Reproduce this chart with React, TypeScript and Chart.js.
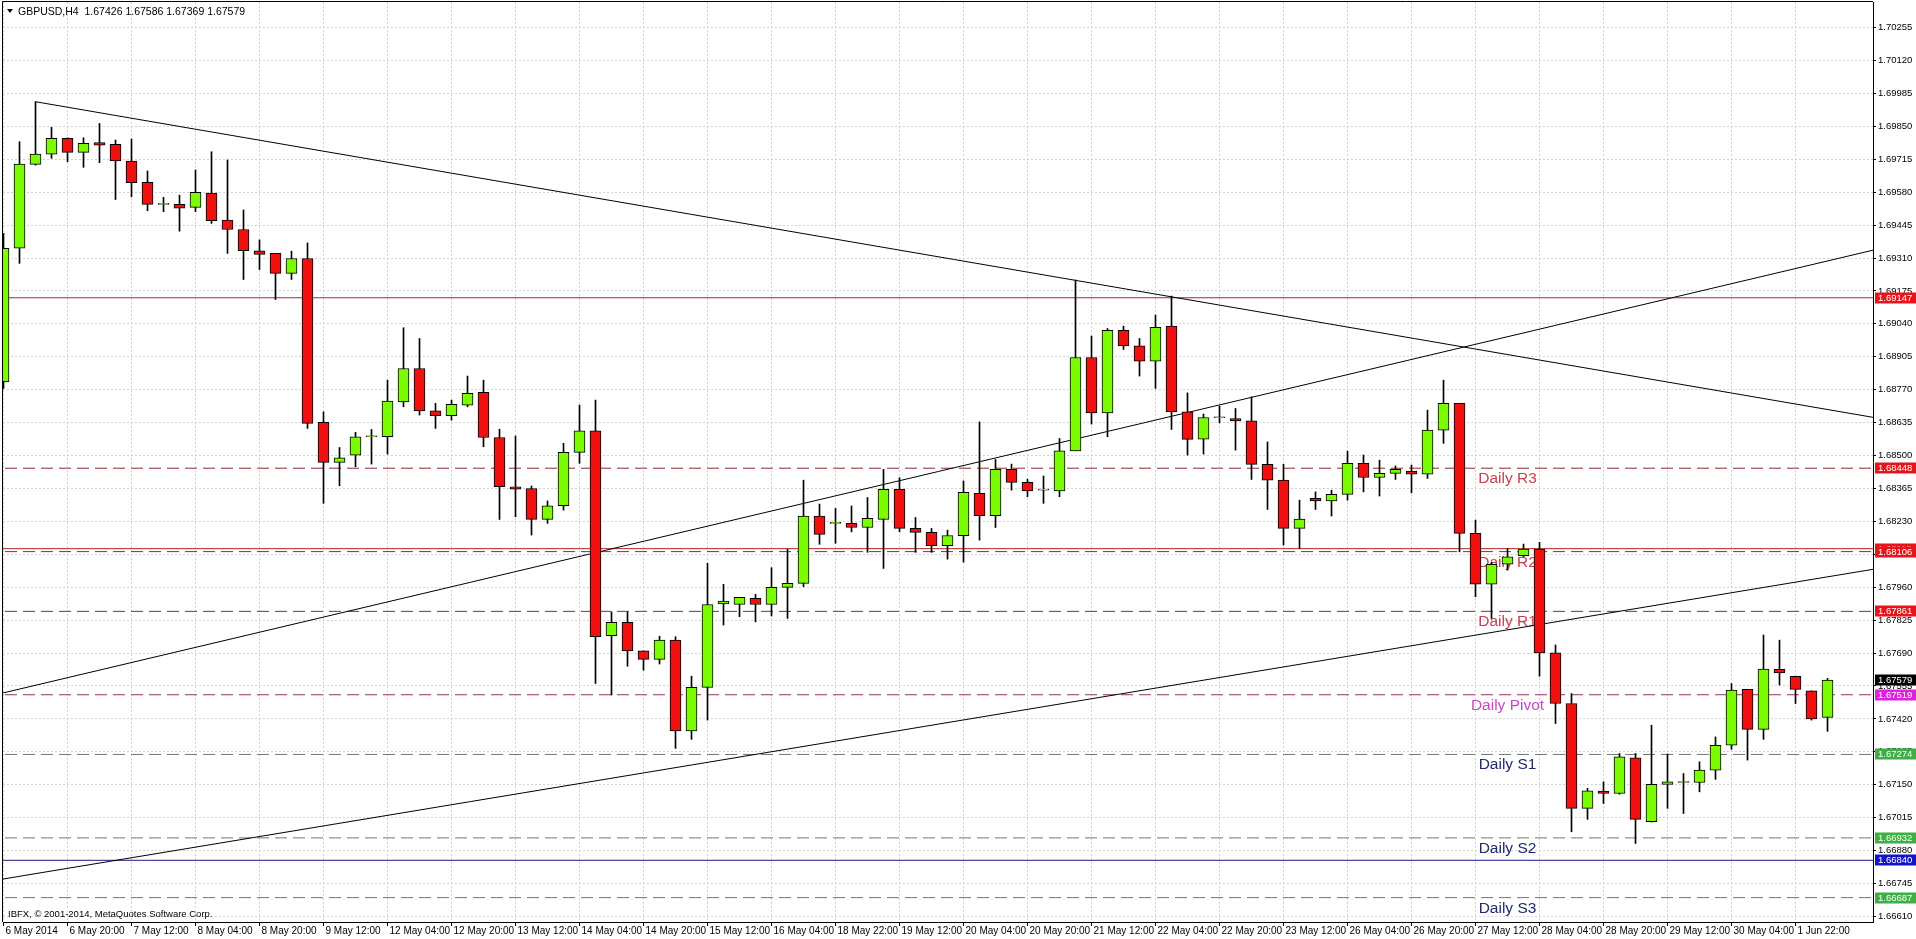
import React, { useEffect, useRef } from 'react';
import { Chart, registerables } from 'chart.js';

Chart.register(...registerables);

// ---------- DATA ----------
const symbolName = 'GBPUSD,H4';
const copyrightText = 'IBFX, \u00A9 2001-2014, MetaQuotes Software Corp.';

const opens = [
  1.68802, 1.69350, 1.69694, 1.69736, 1.69801, 1.69743, 1.69783, 1.69776, 1.69708, 1.69620,
  1.69530, 1.69530, 1.69518, 1.69576, 1.69466, 1.69427, 1.69340, 1.69329, 1.69247, 1.69308,
  1.68636, 1.68472, 1.68502, 1.68577, 1.68577, 1.68720, 1.68857, 1.68683, 1.68663, 1.68707,
  1.68759, 1.68574, 1.68372, 1.68365, 1.68238, 1.68294, 1.68513, 1.68601, 1.67761, 1.67816,
  1.67699, 1.67664, 1.67743, 1.67371, 1.67549, 1.67891, 1.67889, 1.67914, 1.67889, 1.67959,
  1.67976, 1.68252, 1.68222, 1.68222, 1.68205, 1.68238, 1.68361, 1.68201, 1.68185, 1.68130,
  1.68171, 1.68345, 1.68253, 1.68443, 1.68390, 1.68358, 1.68355, 1.68519, 1.68902, 1.68675,
  1.69014, 1.68950, 1.68887, 1.69031, 1.68679, 1.68567, 1.68655, 1.68652, 1.68642, 1.68464,
  1.68399, 1.68201, 1.68324, 1.68314, 1.68341, 1.68468, 1.68410, 1.68427, 1.68436, 1.68424,
  1.68604, 1.68714, 1.68181, 1.67972, 1.68054, 1.68089, 1.68116, 1.67691, 1.67483, 1.67053,
  1.67124, 1.67114, 1.67260, 1.66998, 1.67151, 1.67159, 1.67159, 1.67210, 1.67312, 1.67541,
  1.67377, 1.67623, 1.67595, 1.67535, 1.67426,
];
const highs = [
  1.69411, 1.69787, 1.69951, 1.69846, 1.69803, 1.69803, 1.69862, 1.69794, 1.69798, 1.69667,
  1.69559, 1.69568, 1.69671, 1.69746, 1.69712, 1.69507, 1.69384, 1.69329, 1.69338, 1.69372,
  1.68679, 1.68533, 1.68595, 1.68607, 1.68809, 1.69024, 1.68980, 1.68714, 1.68727, 1.68826,
  1.68809, 1.68608, 1.68580, 1.68375, 1.68314, 1.68550, 1.68707, 1.68727, 1.67859, 1.67858,
  1.67699, 1.67759, 1.67757, 1.67595, 1.68058, 1.67972, 1.67918, 1.67931, 1.68040, 1.68116,
  1.68399, 1.68301, 1.68283, 1.68293, 1.68328, 1.68443, 1.68409, 1.68246, 1.68201, 1.68194,
  1.68396, 1.68638, 1.68484, 1.68465, 1.68403, 1.68416, 1.68570, 1.69220, 1.68990, 1.69021,
  1.69031, 1.68980, 1.69076, 1.69154, 1.68757, 1.68670, 1.68703, 1.68693, 1.68741, 1.68556,
  1.68464, 1.68317, 1.68351, 1.68358, 1.68518, 1.68502, 1.68481, 1.68457, 1.68461, 1.68686,
  1.68809, 1.68714, 1.68235, 1.68063, 1.68119, 1.68137, 1.68144, 1.67723, 1.67524, 1.67135,
  1.67162, 1.67278, 1.67278, 1.67394, 1.67276, 1.67196, 1.67244, 1.67346, 1.67565, 1.67541,
  1.67764, 1.67743, 1.67595, 1.67535, 1.67586,
];
const lows = [
  1.68775, 1.69288, 1.69691, 1.69719, 1.69705, 1.69682, 1.69701, 1.69550, 1.69561, 1.69504,
  1.69500, 1.69420, 1.69500, 1.69452, 1.69329, 1.69222, 1.69263, 1.69140, 1.69222, 1.68611,
  1.68304, 1.68376, 1.68454, 1.68465, 1.68506, 1.68700, 1.68666, 1.68611, 1.68645, 1.68700,
  1.68536, 1.68238, 1.68249, 1.68174, 1.68222, 1.68276, 1.68468, 1.67565, 1.67518, 1.67636,
  1.67620, 1.67645, 1.67299, 1.67336, 1.67415, 1.67805, 1.67839, 1.67818, 1.67842, 1.67832,
  1.67962, 1.68136, 1.68140, 1.68187, 1.68103, 1.68037, 1.68187, 1.68103, 1.68103, 1.68075,
  1.68063, 1.68153, 1.68205, 1.68358, 1.68331, 1.68304, 1.68331, 1.68519, 1.68629, 1.68577,
  1.68935, 1.68826, 1.68775, 1.68607, 1.68502, 1.68506, 1.68634, 1.68522, 1.68402, 1.68279,
  1.68133, 1.68119, 1.68279, 1.68252, 1.68317, 1.68351, 1.68334, 1.68402, 1.68347, 1.68406,
  1.68550, 1.68105, 1.67921, 1.67832, 1.68030, 1.68085, 1.67595, 1.67401, 1.66957, 1.67008,
  1.67073, 1.67111, 1.66909, 1.66997, 1.67053, 1.67032, 1.67121, 1.67172, 1.67295, 1.67251,
  1.67336, 1.67559, 1.67483, 1.67415, 1.67369,
];
const closes = [
  1.69350, 1.69695, 1.69736, 1.69801, 1.69743, 1.69780, 1.69773, 1.69708, 1.69619, 1.69530,
  1.69530, 1.69514, 1.69579, 1.69463, 1.69427, 1.69340, 1.69325, 1.69247, 1.69308, 1.68632,
  1.68472, 1.68491, 1.68577, 1.68577, 1.68723, 1.68857, 1.68683, 1.68663, 1.68710, 1.68755,
  1.68574, 1.68372, 1.68362, 1.68238, 1.68294, 1.68513, 1.68601, 1.67757, 1.67816, 1.67699,
  1.67664, 1.67743, 1.67371, 1.67549, 1.67889, 1.67903, 1.67918, 1.67889, 1.67959, 1.67976,
  1.68252, 1.68177, 1.68222, 1.68205, 1.68242, 1.68361, 1.68201, 1.68185, 1.68130, 1.68172,
  1.68349, 1.68253, 1.68443, 1.68390, 1.68355, 1.68358, 1.68519, 1.68902, 1.68675, 1.69014,
  1.68950, 1.68887, 1.69026, 1.68679, 1.68566, 1.68656, 1.68655, 1.68642, 1.68464, 1.68399,
  1.68201, 1.68239, 1.68314, 1.68341, 1.68468, 1.68410, 1.68427, 1.68443, 1.68424, 1.68604,
  1.68714, 1.68181, 1.67972, 1.68054, 1.68085, 1.68116, 1.67691, 1.67483, 1.67053, 1.67125,
  1.67114, 1.67264, 1.67008, 1.67152, 1.67162, 1.67159, 1.67210, 1.67312, 1.67538, 1.67377,
  1.67624, 1.67609, 1.67541, 1.67420, 1.67579,
];

const xTickBars = [0, 4, 8, 12, 16, 20, 24, 28, 32, 36, 40, 44, 48, 52, 56, 60, 64, 68, 72, 76, 80, 84, 88, 92, 96, 100, 104, 108, 112];
const xTickLabels = [
  '6 May 2014', '6 May 20:00', '7 May 12:00', '8 May 04:00', '8 May 20:00', '9 May 12:00',
  '12 May 04:00', '12 May 20:00', '13 May 12:00', '14 May 04:00', '14 May 20:00', '15 May 12:00',
  '16 May 04:00', '18 May 22:00', '19 May 12:00', '20 May 04:00', '20 May 20:00', '21 May 12:00',
  '22 May 04:00', '22 May 20:00', '23 May 12:00', '26 May 04:00', '26 May 20:00', '27 May 12:00',
  '28 May 04:00', '28 May 20:00', '29 May 12:00', '30 May 04:00', '1 Jun 22:00',
];
const yTickValues = [
  1.66610, 1.66745, 1.66880, 1.67015, 1.67150, 1.67285, 1.67420, 1.67555, 1.67690, 1.67825,
  1.67960, 1.68095, 1.68230, 1.68365, 1.68500, 1.68635, 1.68770, 1.68905, 1.69040, 1.69175,
  1.69310, 1.69445, 1.69580, 1.69715, 1.69850, 1.69985, 1.70120, 1.70255,
];

const pivotNames = ['Daily R3', 'Daily R2', 'Daily R1', 'Daily Pivot', 'Daily S1', 'Daily S2', 'Daily S3'];
const pivotValues = [1.68448, 1.68106, 1.67861, 1.67519, 1.67274, 1.66932, 1.66687];
const pivotKinds = ['r', 'r', 'r', 'p', 's', 's', 's'];
const pivotLabelBar = 94;

const redLevelValues = [1.69147, 1.68118];
const blueLevelValue = 1.66840;
const bidValue = 1.67579;

// trend lines: [bar, price] end points
const trendDown = [[2, 1.69951], [116.9, 1.68656]];
const trendUpper = [[-0.05, 1.67526], [116.9, 1.69343]];
const trendLower = [[-0.05, 1.66763], [116.9, 1.68034]];

// ---------- STYLE ----------
const X_MIN = -0.03125;
const X_MAX = 116.84375;
const Y_MIN = 1.66587;
const Y_MAX = 1.7036;

const BULL = '#7cfc00';
const BEAR = '#f01010';
const GRID = '#d2d2d2';
const FONT = '"Liberation Sans", Arial, sans-serif';

const lineColor = { r: '#8e2a2a', p: '#9a2f6a', s: '#6d7a6d' };
const textColor = { r: '#c8404f', p: '#c448c4', s: '#1f2a6a' };
const boxColor = { r: '#e8141b', p: '#e020e0', s: '#3cb043' };

const hLine = (v: number) => [
  { x: X_MIN - 1, y: v },
  { x: X_MAX + 1, y: v },
];

const overlayPlugin = {
  id: 'mt4Overlay',
  beforeDatasetsDraw(chart: any) {
    const { ctx, scales } = chart;
    const x = scales.x;
    const y = scales.y;
    ctx.save();
    ctx.font = '15.5px ' + FONT;
    ctx.textAlign = 'center';
    ctx.textBaseline = 'alphabetic';
    pivotNames.forEach((name, i) => {
      ctx.fillStyle = (textColor as any)[pivotKinds[i]];
      ctx.fillText(name, x.getPixelForValue(pivotLabelBar), y.getPixelForValue(pivotValues[i]) + 15);
    });
    ctx.restore();
  },
  afterDraw(chart: any) {
    const { ctx, chartArea: a, scales } = chart;
    const y = scales.y;
    ctx.save();
    // frame (left & top)
    ctx.strokeStyle = '#000';
    ctx.lineWidth = 1;
    ctx.beginPath();
    ctx.moveTo(a.left - 0.5, a.bottom);
    ctx.lineTo(a.left - 0.5, a.top - 0.5);
    ctx.lineTo(a.right, a.top - 0.5);
    ctx.stroke();

    // header
    const last = opens.length - 1;
    ctx.fillStyle = '#000';
    ctx.beginPath();
    ctx.moveTo(7, 9);
    ctx.lineTo(13, 9);
    ctx.lineTo(10, 13);
    ctx.closePath();
    ctx.fill();
    ctx.font = '10.5px ' + FONT;
    ctx.textAlign = 'left';
    ctx.textBaseline = 'alphabetic';
    const hdr =
      symbolName + '  ' + [opens[last], highs[last], lows[last], closes[last]].map((v) => v.toFixed(5)).join(' ');
    ctx.fillText(hdr, 18, 15);
    ctx.font = '9.5px ' + FONT;
    ctx.fillText(copyrightText, 8, 917);

    // price labels on the axis
    const boxes: { v: number; c: string }[] = [];
    redLevelValues.forEach((v) => boxes.push({ v, c: '#e8141b' }));
    pivotValues.forEach((v, i) => boxes.push({ v, c: (boxColor as any)[pivotKinds[i]] }));
    boxes.push({ v: blueLevelValue, c: '#1414c8' });
    boxes.push({ v: bidValue, c: '#000000' });
    ctx.font = '9.5px ' + FONT;
    ctx.textBaseline = 'middle';
    boxes.forEach((b) => {
      const py = Math.round(y.getPixelForValue(b.v));
      ctx.fillStyle = b.c;
      ctx.fillRect(a.right + 2, py - 5.5, 1916 - a.right - 2, 11);
      ctx.fillStyle = '#ffffff';
      ctx.fillText(b.v.toFixed(5), a.right + 5, py + 0.5);
    });
    ctx.restore();
  },
};

export default function App() {
  const canvasRef = useRef<HTMLCanvasElement | null>(null);

  useEffect(() => {
    const canvas = canvasRef.current;
    if (!canvas) return;

    const bodyData = opens.map((o, i) => ({ x: i, y: [Math.min(o, closes[i]), Math.max(o, closes[i])] }));
    const wickData = opens.map((_, i) => ({ x: i, y: [lows[i], highs[i]] }));

    const lineDs = (data: any[], color: string, dash: number[] = [], order = 10) => ({
      type: 'line' as const,
      data,
      borderColor: color,
      borderWidth: 1,
      borderDash: dash,
      pointRadius: 0,
      pointHoverRadius: 0,
      tension: 0,
      fill: false,
      order,
    });

    const datasets: any[] = [
      ...pivotValues.map((v, i) => lineDs(hLine(v), (lineColor as any)[pivotKinds[i]], [12, 6])),
      ...redLevelValues.map((v) => lineDs(hLine(v), '#b02525')),
      lineDs(hLine(blueLevelValue), '#1c1c8c'),
      ...[trendDown, trendUpper, trendLower].map((t) =>
        lineDs(t.map(([bx, p]) => ({ x: bx, y: p })), '#000000', [], 9)
      ),
      {
        type: 'bar',
        data: wickData,
        backgroundColor: '#000000',
        borderWidth: 0,
        barThickness: 1,
        maxBarThickness: 1,
        barPercentage: 1,
        categoryPercentage: 1,
        grouped: false,
        order: 2,
      },
      {
        type: 'bar',
        data: bodyData,
        backgroundColor: (c: any) => (closes[c.dataIndex] >= opens[c.dataIndex] ? BULL : BEAR),
        borderColor: '#000000',
        borderWidth: 1,
        borderSkipped: false,
        barThickness: 11,
        maxBarThickness: 11,
        barPercentage: 1,
        categoryPercentage: 1,
        minBarLength: 1,
        grouped: false,
        order: 1,
      },
    ];

    const chart = new Chart(canvas, {
      type: 'bar',
      data: { datasets },
      options: {
        animation: false,
        responsive: false,
        events: [],
        layout: { padding: { left: 3, top: 2, right: 0, bottom: 0 } },
        plugins: { legend: { display: false }, tooltip: { enabled: false }, title: { display: false } },
        scales: {
          x: {
            type: 'linear',
            position: 'bottom',
            min: X_MIN,
            max: X_MAX,
            offset: false,
            afterBuildTicks: (s: any) => {
              s.ticks = xTickBars.map((v) => ({ value: v }));
            },
            afterFit: (s: any) => {
              s.height = 17;
              s.paddingLeft = 0;
              s.paddingRight = 0;
            },
            ticks: {
              autoSkip: false,
              maxRotation: 0,
              minRotation: 0,
              align: 'start',
              padding: -1,
              labelOffset: 2,
              color: '#000',
              font: { family: '"Liberation Sans Narrow", ' + FONT, size: 10 },
              callback: (_v: any, idx: number) => xTickLabels[idx],
            },
            grid: {
              offset: false,
              drawOnChartArea: true,
              drawTicks: true,
              tickLength: 4,
              tickColor: '#000',
              color: GRID,
              lineWidth: 1,
            },
            border: { display: true, color: '#000', width: 1, dash: [2, 2] },
          },
          y: {
            type: 'linear',
            position: 'right',
            min: Y_MIN,
            max: Y_MAX,
            beginAtZero: false,
            afterBuildTicks: (s: any) => {
              s.ticks = yTickValues.map((v) => ({ value: v }));
            },
            afterFit: (s: any) => {
              s.width = 43;
              s.paddingTop = 0;
              s.paddingBottom = 0;
            },
            ticks: {
              autoSkip: false,
              padding: 2,
              color: '#000',
              font: { family: FONT, size: 9.5 },
              callback: (v: any) => Number(v).toFixed(5),
            },
            grid: {
              drawOnChartArea: true,
              drawTicks: true,
              tickLength: 3,
              tickColor: '#000',
              color: GRID,
              lineWidth: 1,
            },
            border: { display: true, color: '#000', width: 1, dash: [2, 2] },
          },
        },
      } as any,
      plugins: [overlayPlugin],
    });

    return () => {
      chart.destroy();
    };
  }, []);

  return (
    <div style={{ position: 'fixed', left: 0, top: 0, width: 1916, height: 939, background: '#ffffff' }}>
      <canvas ref={canvasRef} width={1916} height={939} style={{ display: 'block' }} />
    </div>
  );
}
